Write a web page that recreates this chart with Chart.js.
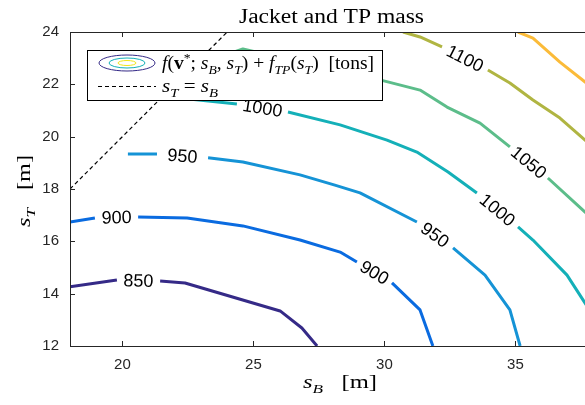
<!DOCTYPE html>
<html lang="en">
<head>
    <script src="https://cdn.jsdelivr.net/npm/chart.js@4/dist/chart.umd.min.js"></script>
    <meta charset="UTF-8">
    <title>Jacket and TP mass</title>
    <style>
        html, body {
            margin: 0;
            padding: 0;
            background: #fff;
            overflow: hidden;
        }
        #wrap {
            width: 600px;
            height: 405px;
        }
    </style>
</head>
<body>
    <div id="wrap"><canvas id="contour" width="600" height="405"></canvas></div>
    <script>
        // contour levels and their polylines (null = gap where the label sits)
        const levels = [850, 900, 950, 1000, 1050, 1100, 1150];
        const levelColors = ['#352a87', '#0a6be0', '#1593d6', '#14b0b8', '#5cbd8a', '#b0b542', '#fbbb39'];

        const sB850 = [18.0, 19.79, null, 21.44, 22.39, 26.02, 26.85, 27.43];
        const sT850 = [14.26, 14.52, null, 14.48, 14.41, 13.34, 12.69, 12.0];

        const sB900 = [18.0, 18.95, null, 20.60, 22.47, 24.60, 26.78, 28.31, 28.95, null, 30.29, 31.36, 31.85];
        const sT900 = [16.74, 16.89, null, 16.93, 16.89, 16.59, 16.05, 15.59, 15.21, null, 14.41, 13.38, 12.0];

        const sB950 = [20.21, 21.32, null, 23.27, 24.60, 26.78, 28.11, 29.07, 31.24, null, 32.62, 33.84, 34.79, 35.18];
        const sT950 = [19.34, 19.34, null, 19.19, 19.03, 18.54, 18.15, 17.85, 16.74, null, 15.75, 14.71, 13.38, 12.0];

        const sB1000 = [21.82, 24.37, null, 26.32, 28.31, 30.10, 31.24, 32.43, 33.53, null, 35.10, 35.67, 36.97, 37.66, 38.0];
        const sT1000 = [21.52, 21.25, null, 20.94, 20.45, 19.87, 19.41, 18.65, 17.85, null, 16.55, 16.05, 14.71, 13.64, 13.11];

        const sB1050 = [23.15, 24.60, 26.78, 29.83, 31.36, 32.39, 33.65, 34.79, null, 36.24, 37.66, 38.0];
        const sT1050 = [22.85, 23.35, 22.85, 22.17, 21.78, 21.13, 20.52, 19.61, null, 18.42, 17.12, 16.82];

        const sB1100 = [30.71, 31.36, 32.20, null, 33.95, 34.79, 35.67, 36.70, 37.66, 38.0];
        const sT1100 = [24.0, 23.81, 23.43, null, 22.55, 22.05, 21.40, 20.71, 19.87, 19.57];

        const sB1150 = [35.10, 35.67, 36.70, 37.66, 38.0];
        const sT1150 = [24.0, 23.77, 22.85, 22.09, 21.82];

        const sBLevels = [sB850, sB900, sB950, sB1000, sB1050, sB1100, sB1150];
        const sTLevels = [sT850, sT900, sT950, sT1000, sT1050, sT1100, sT1150];

        // s_T = s_B line
        const diagB = [18, 24];
        const diagT = [18, 24];

        const xTicks = [20, 25, 30, 35];
        const yTicks = [12, 14, 16, 18, 20, 22, 24];

        const axisColor = '#262626';
        const serif = '"Liberation Serif", "DejaVu Serif", serif';
        const sans = '"Liberation Sans", Arial, sans-serif';

        function toPoints(xs, ys) {
            return xs.map((x, i) => ({ x: x === null ? NaN : x, y: ys[i] }));
        }

        const datasets = levels.map((lv, k) => ({
            label: String(lv),
            data: toPoints(sBLevels[k], sTLevels[k]),
            borderColor: levelColors[k],
            borderWidth: 3,
            borderCapStyle: 'butt',
            borderJoinStyle: 'round',
            showLine: true,
            spanGaps: false,
            pointRadius: 0,
            tension: 0
        }));
        datasets.push({
            label: 'diag',
            data: toPoints(diagB, diagT),
            borderColor: '#000',
            borderWidth: 1.2,
            borderDash: [4, 3],
            showLine: true,
            pointRadius: 0
        });

        // runs of [text, style]; style letters i=italic b=bold d=sub u=sup
        function runFont(st, size) {
            let fs = size;
            if (st.includes('d') || st.includes('u')) fs = size * 0.7;
            const style = (st.includes('i') ? 'italic ' : '') + (st.includes('b') ? 'bold ' : '');
            return style + fs.toFixed(1) + 'px ' + serif;
        }

        function measureRich(ctx, runs, size) {
            let w = 0;
            runs.forEach(([txt, st]) => {
                ctx.font = runFont(st, size);
                w += ctx.measureText(txt).width;
            });
            return w;
        }

        // draws runs so that they start at x and (optionally) span exactly width w
        function richText(ctx, runs, x, y, size, w) {
            const natural = measureRich(ctx, runs, size);
            const sx = w ? w / natural : 1;
            ctx.save();
            ctx.translate(x, y);
            ctx.scale(sx, 1);
            let cx = 0;
            runs.forEach(([txt, st]) => {
                let dy = 0;
                if (st.includes('d')) dy = size * 0.25;
                if (st.includes('u')) dy = -size * 0.38;
                ctx.font = runFont(st, size);
                ctx.fillText(txt, cx, dy);
                cx += ctx.measureText(txt).width;
            });
            ctx.restore();
        }

        const decorPlugin = {
            id: 'decor',
            afterDatasetsDraw(chart) {
                const ctx = chart.ctx;
                const xs = chart.scales.x, ys = chart.scales.y;
                const area = chart.chartArea;
                ctx.save();

                // contour labels at the gaps
                ctx.fillStyle = '#000';
                ctx.font = '18px ' + sans;
                ctx.textAlign = 'center';
                ctx.textBaseline = 'middle';
                levels.forEach((lv, k) => {
                    const bx = sBLevels[k], ty = sTLevels[k];
                    for (let i = 1; i < bx.length - 1; i++) {
                        if (bx[i] !== null) continue;
                        const x1 = xs.getPixelForValue(bx[i - 1]), y1 = ys.getPixelForValue(ty[i - 1]);
                        const x2 = xs.getPixelForValue(bx[i + 1]), y2 = ys.getPixelForValue(ty[i + 1]);
                        ctx.save();
                        ctx.translate((x1 + x2) / 2, (y1 + y2) / 2);
                        ctx.rotate(Math.atan2(y2 - y1, x2 - x1));
                        ctx.fillText(String(lv), 0, 1);
                        ctx.restore();
                    }
                });

                // axes box and ticks
                ctx.strokeStyle = axisColor;
                ctx.lineWidth = 1;
                ctx.beginPath();
                ctx.moveTo(area.left + 0.5, area.top + 0.5);
                ctx.lineTo(area.left + 0.5, area.bottom + 0.5);
                ctx.moveTo(area.left, area.bottom + 0.5);
                ctx.lineTo(area.right, area.bottom + 0.5);
                ctx.moveTo(area.left, area.top + 0.5);
                ctx.lineTo(area.right, area.top + 0.5);
                xTicks.forEach(v => {
                    const px = Math.round(xs.getPixelForValue(v)) + 0.5;
                    ctx.moveTo(px, area.bottom);
                    ctx.lineTo(px, area.bottom - 5);
                    ctx.moveTo(px, area.top);
                    ctx.lineTo(px, area.top + 5);
                });
                yTicks.forEach(v => {
                    const py = Math.round(ys.getPixelForValue(v)) + 0.5;
                    ctx.moveTo(area.left, py);
                    ctx.lineTo(area.left + 5, py);
                });
                ctx.stroke();

                // tick labels
                ctx.fillStyle = axisColor;
                ctx.font = '15px ' + sans;
                ctx.textAlign = 'center';
                ctx.textBaseline = 'alphabetic';
                xTicks.forEach(v => ctx.fillText(String(v), xs.getPixelForValue(v), 369));
                ctx.textAlign = 'right';
                ctx.textBaseline = 'middle';
                yTicks.forEach(v => ctx.fillText(String(v), 59, ys.getPixelForValue(v)));

                // title
                ctx.fillStyle = '#000';
                ctx.textAlign = 'left';
                ctx.textBaseline = 'alphabetic';
                richText(ctx, [['Jacket and TP mass', '']], 239, 23, 20, 185);

                // axis titles
                richText(ctx, [['s', 'i'], ['B', 'id'], ['   [m]', '']], 303, 388, 18, 74);
                ctx.save();
                ctx.translate(30, 227);
                ctx.rotate(-Math.PI / 2);
                richText(ctx, [['s', 'i'], ['T', 'id'], ['   [m]', '']], 0, 0, 18, 72);
                ctx.restore();

                // legend
                ctx.fillStyle = '#fff';
                ctx.fillRect(87, 50, 295, 50);
                ctx.strokeStyle = '#000';
                ctx.strokeRect(87.5, 50.5, 295, 50);
                const rings = [[28, 8, levelColors[0]], [18, 5, levelColors[3]], [9, 2.5, '#f2e61a']];
                rings.forEach(([rx, ry, c]) => {
                    ctx.strokeStyle = c;
                    ctx.beginPath();
                    ctx.ellipse(127, 63, rx, ry, 0, 0, Math.PI * 2);
                    ctx.stroke();
                });
                ctx.strokeStyle = '#000';
                ctx.setLineDash([4, 3]);
                ctx.beginPath();
                ctx.moveTo(98, 86.5);
                ctx.lineTo(156, 86.5);
                ctx.stroke();
                ctx.setLineDash([]);
                ctx.fillStyle = '#000';
                richText(ctx, [['f', 'i'], ['(', ''], ['v', 'b'], ['*', 'u'], ['; ', ''], ['s', 'i'], ['B', 'id'],
                    [', ', ''], ['s', 'i'], ['T', 'id'], [') + ', ''], ['f', 'i'], ['TP', 'id'], ['(', ''],
                    ['s', 'i'], ['T', 'id'], [')  [tons]', '']], 162, 69, 19, 212);
                richText(ctx, [['s', 'i'], ['T', 'id'], [' = ', ''], ['s', 'i'], ['B', 'id']], 162, 92, 19, 56);

                ctx.restore();
            }
        };

        new Chart(document.getElementById('contour'), {
            type: 'scatter',
            data: { datasets: datasets },
            options: {
                responsive: false,
                animation: false,
                layout: { padding: { top: 32, right: 6, left: 0, bottom: 0 } },
                plugins: { legend: { display: false }, tooltip: { enabled: false }, title: { display: false } },
                scales: {
                    x: {
                        type: 'linear', min: 18, max: 38,
                        ticks: { display: false },
                        grid: { display: false },
                        border: { display: false },
                        afterFit: s => { s.height = 59; }
                    },
                    y: {
                        type: 'linear', min: 12, max: 24,
                        ticks: { display: false },
                        grid: { display: false },
                        border: { display: false },
                        afterFit: s => { s.width = 70; }
                    }
                }
            },
            plugins: [decorPlugin]
        });
    </script>
</body>
</html>
